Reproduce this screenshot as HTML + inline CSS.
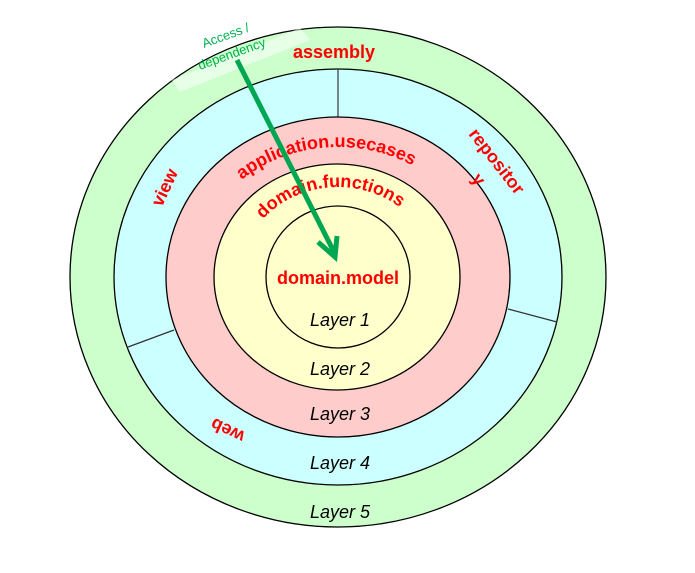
<!DOCTYPE html>
<html><head><style>html,body{margin:0;padding:0;background:#fff;}svg{display:block}</style></head>
<body>
<svg width="695" height="573" viewBox="0 0 695 573" xmlns="http://www.w3.org/2000/svg" font-family="Liberation Sans, Arial, sans-serif">
<ellipse cx="338" cy="277" rx="268" ry="250" fill="#ccffcc" stroke="#000" stroke-width="1.3"/>
<ellipse cx="338" cy="277" rx="224" ry="208" fill="#ccffff" stroke="#000" stroke-width="1.3"/>
<line x1="338" y1="69" x2="338" y2="117" stroke="#444" stroke-width="1.3"/>
<line x1="508" y1="309" x2="557" y2="322" stroke="#333" stroke-width="1.3"/>
<line x1="174" y1="330" x2="128" y2="347" stroke="#333" stroke-width="1.3"/>
<ellipse cx="338" cy="277" rx="172" ry="160" fill="#ffcccc" stroke="#000" stroke-width="1.3"/>
<ellipse cx="337" cy="277" rx="123" ry="113" fill="#ffffcc" stroke="#000" stroke-width="1.3"/>
<ellipse cx="338" cy="277" rx="72" ry="71" fill="#ffffcc" stroke="#000" stroke-width="1.3"/>
<defs>
<path id="p1" d="M 193 277 A 145 130 0 0 1 483 277"/>
<path id="p2" d="M 240 277 A 98 90 0 0 1 436 277"/>
</defs>
<g fill="#ff0000" font-weight="bold" font-size="18">
<text x="334" y="58" text-anchor="middle">assembly</text>
<text x="338" y="284" text-anchor="middle">domain.model</text>
<text><textPath href="#p1" startOffset="47%" text-anchor="middle">application.usecases</textPath></text>
<text><textPath href="#p2" startOffset="47%" text-anchor="middle">domain.functions</textPath></text>
<text transform="translate(170,190) rotate(-65)" text-anchor="middle">view</text>
<text transform="translate(492,165) rotate(52)" text-anchor="middle">repositor</text>
<text transform="translate(474,183) rotate(52)" text-anchor="middle">y</text>
<text transform="translate(230,425) rotate(205)" text-anchor="middle">web</text>
</g>
<g font-style="italic" font-size="18" fill="#000" text-anchor="middle">
<text x="340" y="326">Layer 1</text>
<text x="340" y="375">Layer 2</text>
<text x="340" y="420">Layer 3</text>
<text x="340" y="469">Layer 4</text>
<text x="340" y="518">Layer 5</text>
</g>
<polygon points="172,80 300,28 310,40 180,92" fill="#ffffff" opacity="0.5"/>
<g fill="#00b050" font-size="13">
<text transform="translate(204,48) rotate(-20)">Access /</text>
<text transform="translate(200,70) rotate(-20)">dependency</text>
</g>
<line x1="237" y1="60" x2="335" y2="254" stroke="#00a651" stroke-width="5"/>
<polyline points="318,242 335,257 337,236" fill="none" stroke="#00a651" stroke-width="5"/>
</svg>
</body></html>
